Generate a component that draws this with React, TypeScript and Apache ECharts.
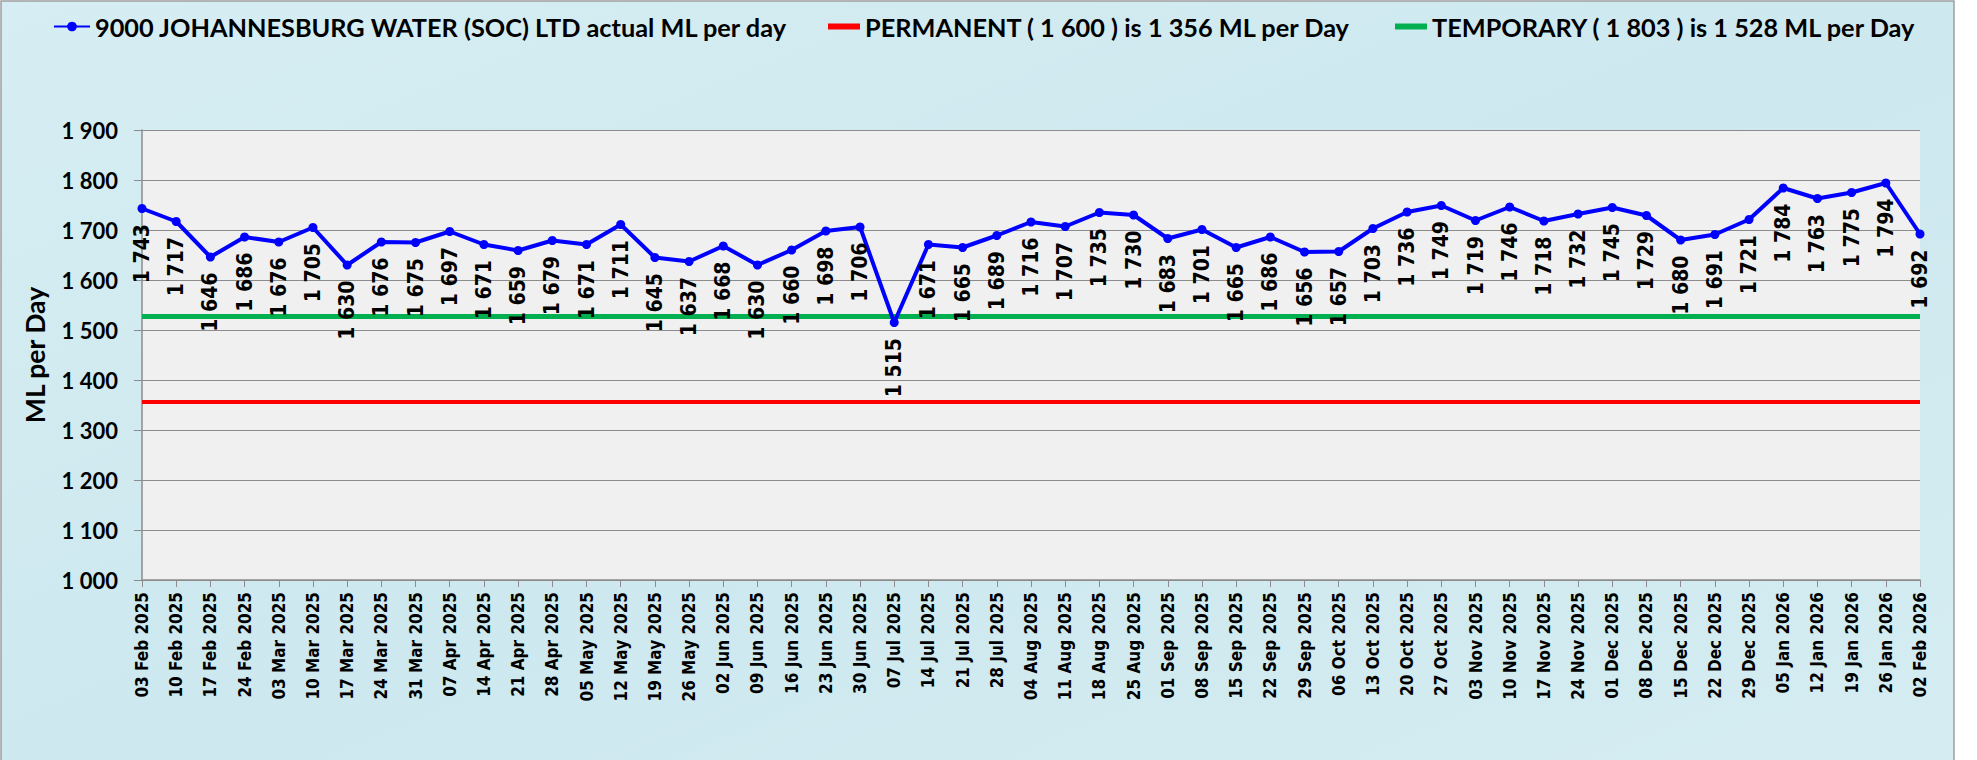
import React, { useEffect, useRef } from "react";
import * as echarts from "echarts";

const categories: string[] = [
  "03 Feb 2025", "10 Feb 2025", "17 Feb 2025", "24 Feb 2025", "03 Mar 2025", "10 Mar 2025",
  "17 Mar 2025", "24 Mar 2025", "31 Mar 2025", "07 Apr 2025", "14 Apr 2025", "21 Apr 2025",
  "28 Apr 2025", "05 May 2025", "12 May 2025", "19 May 2025", "26 May 2025", "02 Jun 2025",
  "09 Jun 2025", "16 Jun 2025", "23 Jun 2025", "30 Jun 2025", "07 Jul 2025", "14 Jul 2025",
  "21 Jul 2025", "28 Jul 2025", "04 Aug 2025", "11 Aug 2025", "18 Aug 2025", "25 Aug 2025",
  "01 Sep 2025", "08 Sep 2025", "15 Sep 2025", "22 Sep 2025", "29 Sep 2025", "06 Oct 2025",
  "13 Oct 2025", "20 Oct 2025", "27 Oct 2025", "03 Nov 2025", "10 Nov 2025", "17 Nov 2025",
  "24 Nov 2025", "01 Dec 2025", "08 Dec 2025", "15 Dec 2025", "22 Dec 2025", "29 Dec 2025",
  "05 Jan 2026", "12 Jan 2026", "19 Jan 2026", "26 Jan 2026", "02 Feb 2026",
];

const actualValues: number[] = [
  1743, 1717, 1646, 1686, 1676, 1705, 1630, 1676, 1675, 1697, 1671, 1659, 1679, 1671, 1711,
  1645, 1637, 1668, 1630, 1660, 1698, 1706, 1515, 1671, 1665, 1689, 1716, 1707, 1735, 1730,
  1683, 1701, 1665, 1686, 1656, 1657, 1703, 1736, 1749, 1719, 1746, 1718, 1732, 1745, 1729,
  1680, 1691, 1721, 1784, 1763, 1775, 1794, 1692,
];

const permanentLevel = 1356;
const temporaryLevel = 1528;

const seriesNames: string[] = [
  "9000 JOHANNESBURG WATER (SOC) LTD actual ML per day",
  "PERMANENT ( 1 600 ) is 1 356 ML per Day",
  "TEMPORARY ( 1 803 ) is 1 528 ML per Day",
];

const yTicks = { min: 1000, max: 1900, interval: 100 };

const fmt = (v: number) => String(v).replace(/\B(?=(\d{3})+(?!\d))/g, " ");

const condensed = "'DejaVu Sans Condensed', 'DejaVu Sans', sans-serif";

export default function App() {
  const ref = useRef<HTMLDivElement>(null);

  useEffect(() => {
    if (!ref.current) return;
    const chart = echarts.init(ref.current, undefined, { renderer: "svg" });
    const legendText = {
      fontFamily: "Lato",
      fontWeight: "bold" as const,
      fontSize: 25.3,
      color: "#000",
    };
    chart.setOption({
      animation: false,
      backgroundColor: "#ffffff",
      graphic: [
        {
          type: "rect",
          z: -100,
          silent: true,
          shape: { x: 1, y: 1, width: 1953, height: 800 },
          style: {
            fill: {
              type: "linear",
              x: 0, y: 0, x2: 1, y2: 1,
              colorStops: [
                { offset: 0, color: "#D6EEF3" },
                { offset: 0.5, color: "#CDE8EF" },
                { offset: 1, color: "#D5EDF2" },
              ],
            },
            stroke: "#9E9E9E",
            lineWidth: 1.5,
          },
        },
      ],
      legend: [
        {
          data: [seriesNames[0]],
          left: 48,
          top: 9,
          itemWidth: 36,
          itemHeight: 12,
          textStyle: legendText,
        },
        {
          data: [seriesNames[1]],
          left: 823,
          top: 9,
          icon: "rect",
          itemWidth: 32,
          itemHeight: 6,
          textStyle: legendText,
        },
        {
          data: [seriesNames[2]],
          left: 1390,
          top: 9,
          icon: "rect",
          itemWidth: 32,
          itemHeight: 6,
          textStyle: legendText,
        },
      ],
      grid: {
        left: 142,
        right: 57,
        top: 130,
        bottom: 180,
        show: true,
        backgroundColor: "#F0F0F0",
        borderWidth: 0,
      },
      xAxis: {
        type: "category",
        data: categories,
        boundaryGap: false,
        axisLine: { show: true, lineStyle: { color: "#8C8C8C", width: 1.5 } },
        axisTick: { show: true, interval: 0, length: 7, lineStyle: { color: "#8C8C8C" } },
        axisLabel: {
          interval: 0,
          rotate: 90,
          margin: 12,
          color: "#000",
          fontFamily: condensed,
          fontWeight: "bold",
          fontSize: 17,
        },
        splitLine: { show: false },
      },
      yAxis: {
        type: "value",
        min: yTicks.min,
        max: yTicks.max,
        interval: yTicks.interval,
        name: "ML per Day",
        nameLocation: "middle",
        nameGap: 94,
        nameTextStyle: {
          fontFamily: "Lato",
          fontWeight: "bold",
          fontSize: 26.5,
          color: "#000",
        },
        axisLine: { show: true, lineStyle: { color: "#8C8C8C", width: 1.5 } },
        axisTick: { show: true, length: 8, lineStyle: { color: "#8C8C8C" } },
        axisLabel: {
          margin: 24,
          color: "#000",
          fontFamily: "Lato",
          fontWeight: "bold",
          fontSize: 22,
          formatter: (v: number) => fmt(v),
        },
        splitLine: { show: true, lineStyle: { color: "#8C8C8C", width: 1.2 } },
      },
      series: [
        {
          name: seriesNames[0],
          type: "line",
          data: actualValues,
          symbol: "circle",
          symbolSize: 9,
          itemStyle: { color: "#0000FF" },
          lineStyle: { color: "#0000FF", width: 4 },
          z: 5,
          label: {
            show: true,
            position: "bottom",
            distance: 11,
            rotate: 90,
            align: "right",
            verticalAlign: "middle",
            color: "#000",
            fontFamily: condensed,
            fontWeight: "bold",
            fontSize: 21,
            formatter: (p: any) => fmt(p.value),
          },
        },
        {
          name: seriesNames[1],
          type: "line",
          data: [],
          symbol: "none",
          itemStyle: { color: "#FF0000" },
          lineStyle: { color: "#FF0000", width: 5 },
          markLine: {
            silent: true,
            symbol: "none",
            label: { show: false },
            lineStyle: { color: "#FF0000", width: 4, type: "solid" },
            data: [{ yAxis: permanentLevel }],
          },
          z: 3,
        },
        {
          name: seriesNames[2],
          type: "line",
          data: [],
          symbol: "none",
          itemStyle: { color: "#00B050" },
          lineStyle: { color: "#00B050", width: 5 },
          markLine: {
            silent: true,
            symbol: "none",
            label: { show: false },
            lineStyle: { color: "#00B050", width: 5, type: "solid" },
            data: [{ yAxis: temporaryLevel }],
          },
          z: 3,
        },
      ],
    });
    return () => chart.dispose();
  }, []);

  return (
    <div
      ref={ref}
      style={{ position: "absolute", left: 0, top: 0, width: 1977, height: 760 }}
    />
  );
}
